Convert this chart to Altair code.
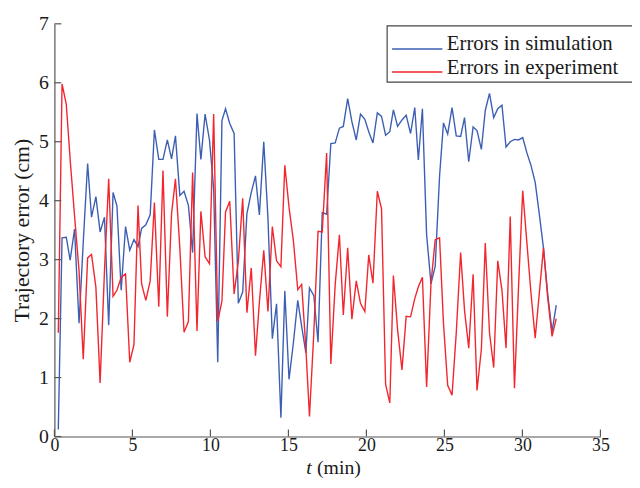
import altair as alt
import pandas as pd

# ---- data ----
t_min = [
    0.25, 0.49, 0.76, 1.01, 1.29, 1.58, 1.85, 2.13, 2.38, 2.66,
    2.93, 3.21, 3.48, 3.76, 4.01, 4.28, 4.56, 4.83, 5.10, 5.36,
    5.59, 5.86, 6.14, 6.41, 6.69, 6.96, 7.24, 7.51, 7.76, 8.04,
    8.31, 8.59, 8.86, 9.14, 9.39, 9.66, 9.94, 10.21, 10.47, 10.74,
    10.97, 11.24, 11.52, 11.79, 12.07, 12.34, 12.62, 12.89, 13.14, 13.42,
    13.69, 13.97, 14.24, 14.52, 14.77, 15.04, 15.32, 15.60, 15.85, 16.12,
    16.35, 16.63, 16.90, 17.17, 17.45, 17.72, 18.00, 18.27, 18.52, 18.80,
    19.07, 19.35, 19.62, 19.90, 20.15, 20.42, 20.70, 20.97, 21.23, 21.50,
    21.73, 22.00, 22.28, 22.55, 22.83, 23.10, 23.33, 23.59, 23.86, 24.14,
    24.41, 24.69, 24.94, 25.21, 25.49, 25.76, 26.04, 26.29, 26.56, 26.84,
    27.09, 27.37, 27.62, 27.89, 28.16, 28.42, 28.69, 28.95, 29.22, 29.49,
    29.75, 30.02, 30.29, 30.55, 30.82, 31.09, 31.35, 31.62, 31.90, 32.17,
]

sim_err = [
    0.12, 3.37, 3.38, 2.99, 3.52, 1.92, 3.30, 4.63, 3.72, 4.07,
    3.47, 3.72, 1.89, 4.14, 3.91, 2.48, 3.56, 3.16, 3.34, 3.22,
    3.53, 3.59, 3.76, 5.20, 4.70, 4.70, 5.03, 4.71, 5.10, 4.09,
    4.16, 3.92, 3.12, 5.48, 4.70, 5.47, 5.03, 4.20, 1.26, 5.36,
    5.56, 5.31, 5.14, 2.26, 2.45, 3.78, 4.14, 4.42, 3.76, 5.00,
    3.70, 1.66, 2.25, 0.32, 2.47, 0.97, 1.59, 2.31, 1.87, 1.42,
    2.52, 2.39, 1.60, 3.80, 3.77, 4.97, 4.98, 5.23, 5.26, 5.73,
    5.34, 5.03, 5.47, 5.38, 5.17, 4.98, 5.49, 5.43, 5.11, 5.17,
    5.54, 5.26, 5.37, 5.45, 5.14, 5.58, 4.69, 5.56, 3.42, 2.59,
    2.89, 4.42, 5.32, 5.13, 5.58, 5.10, 5.09, 5.41, 4.66, 5.25,
    5.19, 4.87, 5.53, 5.82, 5.41, 5.56, 5.62, 4.91, 5.00, 5.04,
    5.03, 5.07, 4.81, 4.60, 4.31, 3.76, 3.20, 2.42, 1.78, 2.23,
]

exp_err = [
    1.76, 5.98, 5.64, 4.70, 3.75, 2.81, 1.31, 3.03, 3.09, 2.53,
    0.91, 2.81, 4.37, 2.38, 2.48, 2.70, 2.76, 1.26, 1.56, 3.92,
    2.59, 2.31, 2.64, 3.97, 2.20, 4.51, 2.03, 3.78, 4.37, 3.20,
    1.77, 1.95, 4.48, 1.79, 3.82, 3.05, 2.93, 5.47, 1.95, 2.30,
    3.81, 3.99, 2.42, 2.97, 4.04, 2.10, 2.86, 1.37, 2.28, 3.16,
    2.12, 3.56, 2.98, 2.88, 4.60, 3.89, 3.32, 2.49, 2.58, 1.50,
    0.34, 1.76, 3.48, 3.47, 4.81, 1.23, 2.58, 3.42, 2.06, 3.20,
    1.99, 2.64, 2.26, 2.12, 3.08, 2.60, 4.16, 3.86, 0.89, 0.57,
    2.73, 1.81, 1.13, 2.04, 2.03, 2.34, 2.54, 2.70, 0.84, 2.60,
    3.34, 3.37, 1.92, 0.87, 0.70, 1.76, 3.12, 2.14, 1.50, 2.75,
    0.78, 1.48, 3.28, 1.76, 1.17, 2.98, 2.48, 1.50, 3.73, 0.82,
    2.53, 4.17, 3.28, 2.43, 1.67, 2.45, 3.20, 2.36, 1.70, 2.00,
]

series_names = ["Errors in simulation", "Errors in experiment"]
x_ticks = [0, 5, 10, 15, 20, 25, 30, 35]
y_ticks = [0, 1, 2, 3, 4, 5, 6, 7]

# ---- styling ----
W, H = 553, 418
FONT = "Liberation Serif"
BLUE = "#3d5fb3"
RED = "#f2262e"
AXIS = "#555555"
TEXT = "#1a1a1a"

sim_df = pd.DataFrame({"t": t_min, "err": sim_err})
exp_df = pd.DataFrame({"t": t_min, "err": exp_err})

xscale = alt.Scale(domain=[0, 35], nice=False, zero=False)
yscale = alt.Scale(domain=[0, 7], nice=False)

x_axis = alt.Axis(values=x_ticks, title=None, ticks=False, tickSize=0, grid=False,
                  labelFont=FONT, labelFontSize=18, labelColor=TEXT, labelPadding=0,
                  domainColor=AXIS, domainWidth=1.2, labelFlush=False)
y_axis = alt.Axis(values=y_ticks, title="Trajectory error (cm)", ticks=False, tickSize=0,
                  grid=False, labelFont=FONT, labelFontSize=20, labelColor=TEXT,
                  labelPadding=6, domainColor=AXIS, domainWidth=1.2,
                  titleFont=FONT, titleFontSize=22, titleFontWeight="normal",
                  titleColor=TEXT, titlePadding=5)

sim_line = alt.Chart(sim_df).mark_line(color=BLUE, strokeWidth=1.4).encode(
    x=alt.X("t:Q", scale=xscale, axis=x_axis),
    y=alt.Y("err:Q", scale=yscale, axis=y_axis),
)
exp_line = alt.Chart(exp_df).mark_line(color=RED, strokeWidth=1.4).encode(
    x=alt.X("t:Q", scale=xscale, axis=x_axis),
    y=alt.Y("err:Q", scale=yscale, axis=y_axis),
)

# inward tick marks
ytick = alt.Chart(pd.DataFrame({"err": y_ticks})).mark_rule(color=AXIS, strokeWidth=1.2).encode(
    y=alt.Y("err:Q", scale=yscale, axis=y_axis), x=alt.value(0), x2=alt.value(7)
)
xtick = alt.Chart(pd.DataFrame({"t": x_ticks})).mark_rule(color=AXIS, strokeWidth=1.2).encode(
    x=alt.X("t:Q", scale=xscale, axis=x_axis), y=alt.value(H), y2=alt.value(H - 7)
)

# x-axis title with italic t
one = pd.DataFrame({"a": [0]})
xt_t = alt.Chart(one).mark_text(font=FONT, fontSize=20, fontStyle="italic", color=TEXT,
                                align="left", baseline="alphabetic").encode(
    x=alt.value(255), y=alt.value(456), text=alt.value("t"))
xt_rest = alt.Chart(one).mark_text(font=FONT, fontSize=20, color=TEXT,
                                   align="left", baseline="alphabetic").encode(
    x=alt.value(266), y=alt.value(456), text=alt.value("(min)"))

# legend
leg_box = alt.Chart(one).mark_rect(fill="white", stroke="#444444", strokeWidth=1.2).encode(
    x=alt.value(337), x2=alt.value(640), y=alt.value(2), y2=alt.value(59))
leg_l1 = alt.Chart(one).mark_rule(color=BLUE, strokeWidth=1.4).encode(
    x=alt.value(342), x2=alt.value(393), y=alt.value(25.5))
leg_l2 = alt.Chart(one).mark_rule(color=RED, strokeWidth=1.4).encode(
    x=alt.value(342), x2=alt.value(393), y=alt.value(48.8))
leg_t1 = alt.Chart(one).mark_text(font=FONT, fontSize=21, color=TEXT, align="left",
                                  baseline="alphabetic").encode(
    x=alt.value(397.5), y=alt.value(27), text=alt.value(series_names[0]))
leg_t2 = alt.Chart(one).mark_text(font=FONT, fontSize=21, color=TEXT, align="left",
                                  baseline="alphabetic").encode(
    x=alt.value(397.5), y=alt.value(50.5), text=alt.value(series_names[1]))

chart = alt.layer(
    sim_line, exp_line, ytick, xtick, xt_t, xt_rest,
    leg_box, leg_l1, leg_l2, leg_t1, leg_t2,
).properties(
    width=W, height=H,
    autosize=alt.AutoSizeParams(type="none"),
    padding={"left": 47, "top": 13, "right": 32, "bottom": 41},
    background="white",
).configure_view(stroke=None)

chart.save("out.html", embed_options={"renderer": "svg", "actions": False})
